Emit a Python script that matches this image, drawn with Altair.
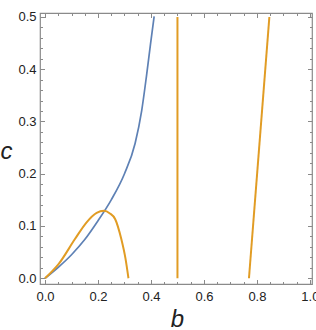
import altair as alt
import pandas as pd

# --- data ---
blue_b = [0.0, 0.05, 0.10, 0.15, 0.20, 0.25, 0.30, 0.34, 0.365, 0.383, 0.398, 0.412]
blue_c = [0.0, 0.021, 0.045, 0.074, 0.110, 0.150, 0.200, 0.258, 0.321, 0.387, 0.447, 0.501]

hump_b = [0.0, 0.051, 0.113, 0.157, 0.195, 0.222, 0.245, 0.265, 0.288, 0.304, 0.315]
hump_c = [0.0, 0.027, 0.075, 0.107, 0.125, 0.129, 0.124, 0.113, 0.075, 0.037, 0.0]

vert_b = [0.5, 0.5]
vert_c = [0.0, 0.5]
slant_b = [0.770, 0.847]
slant_c = [0.0, 0.5]

x_major = [0.0, 0.2, 0.4, 0.6, 0.8, 1.0]
y_major = [0.0, 0.1, 0.2, 0.3, 0.4, 0.5]
x_minor = [0.05, 0.1, 0.15, 0.25, 0.3, 0.35, 0.45, 0.5, 0.55, 0.65, 0.7, 0.75, 0.85, 0.9, 0.95]
y_minor = [0.02, 0.04, 0.06, 0.08, 0.12, 0.14, 0.16, 0.18, 0.22, 0.24, 0.26, 0.28,
           0.32, 0.34, 0.36, 0.38, 0.42, 0.44, 0.46, 0.48]

blue_df = pd.DataFrame({"b": blue_b, "c": blue_c, "i": range(len(blue_b))})
hump_df = pd.DataFrame({"b": hump_b, "c": hump_c, "i": range(len(hump_b))})
seg_rows = []
for seg, (bs, cs) in enumerate([(vert_b, vert_c), (slant_b, slant_c)]):
    for k, (bb, cc) in enumerate(zip(bs, cs)):
        seg_rows.append({"b": bb, "c": cc, "seg": seg, "i": k})
seg_df = pd.DataFrame(seg_rows)

W, H = 272, 271
BLUE = "#5E81B5"
ORANGE = "#E19C24"
FRAME = "#8a8a8a"

xs = alt.Scale(domain=[-0.019, 1.008], nice=False, zero=False)
ys = alt.Scale(domain=[-0.011, 0.5076], nice=False, zero=False)

def tick_axis(orient, values, size, offset):
    return alt.Axis(orient=orient, values=values, tickSize=size, offset=offset,
                    labels=False, domain=False, grid=False, title=None,
                    tickColor=FRAME, tickWidth=1)

# layer 1: blue curve, carries labels and titles
blue = alt.Chart(blue_df).mark_line(color=BLUE, strokeWidth=1.7, interpolate="monotone").encode(
    x=alt.X("b:Q", scale=xs, axis=alt.Axis(
        values=x_major, format=".1f", ticks=False, domain=False, grid=False,
        labelPadding=6, labelFontSize=13, labelColor="#222", labelFont="Liberation Sans",
        title="b", titleFontStyle="italic", titleFontSize=24, titleFontWeight="normal",
        titleFont="Liberation Sans", titleColor="#222",
        titleX=137, titleY=42, titleAlign="center", titleBaseline="alphabetic")),
    y=alt.Y("c:Q", scale=ys, axis=alt.Axis(
        values=y_major, format=".1f", ticks=False, domain=False, grid=False,
        labelPadding=4, labelFontSize=13, labelColor="#222", labelFont="Liberation Sans",
        title="c", titleFontStyle="italic", titleFontSize=24, titleFontWeight="normal",
        titleFont="Liberation Sans", titleColor="#222", titleAngle=0,
        titleX=-34, titleY=145, titleAlign="center", titleBaseline="alphabetic")),
    order="i:Q",
)

# layer 2: orange hump, major inward ticks on bottom/left
hump = alt.Chart(hump_df).mark_line(color=ORANGE, strokeWidth=2, interpolate="monotone").encode(
    x=alt.X("b:Q", scale=xs, axis=tick_axis("top", x_major, 4.5, -H)),
    y=alt.Y("c:Q", scale=ys, axis=tick_axis("right", y_major, 4.5, -W)),
    order="i:Q",
)

# layer 3: orange straight lines, minor inward ticks on bottom/left
segs = alt.Chart(seg_df).mark_line(color=ORANGE, strokeWidth=2).encode(
    x=alt.X("b:Q", scale=xs, axis=tick_axis("top", x_minor, 2.5, -H)),
    y=alt.Y("c:Q", scale=ys, axis=tick_axis("right", y_minor, 2.5, -W)),
    detail="seg:N",
    order="i:Q",
)

# layers 4/5: invisible copies carrying the top/right inward ticks
top_major = alt.Chart(seg_df).mark_line(opacity=0).encode(
    x=alt.X("b:Q", scale=xs, axis=tick_axis("bottom", x_major, 4.5, -H)),
    y=alt.Y("c:Q", scale=ys, axis=tick_axis("left", y_major, 4.5, -W)),
    detail="seg:N",
)
top_minor = alt.Chart(seg_df).mark_line(opacity=0).encode(
    x=alt.X("b:Q", scale=xs, axis=tick_axis("bottom", x_minor, 2.5, -H)),
    y=alt.Y("c:Q", scale=ys, axis=tick_axis("left", y_minor, 2.5, -W)),
    detail="seg:N",
)

chart = alt.layer(blue, hump, segs, top_major, top_minor).resolve_axis(
    x="independent", y="independent"
).properties(
    width=W, height=H,
    autosize=alt.AutoSizeParams(type="none"),
    padding={"left": 40, "top": 13, "right": 4, "bottom": 46},
    background="white",
).configure_view(stroke=FRAME, strokeWidth=1.2)

chart.save("out.html", embed_options={"renderer": "svg", "actions": False})
